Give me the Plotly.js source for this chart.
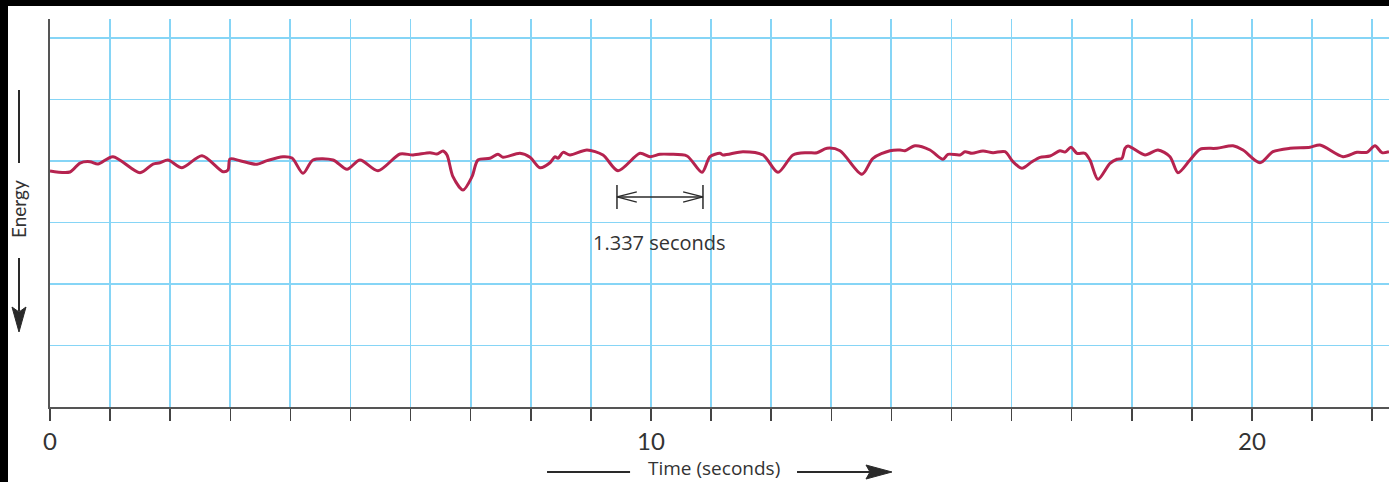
<!DOCTYPE html>
<html>
<head>
<meta charset="utf-8">
<script src="https://cdn.plot.ly/plotly-3.0.1.min.js"></script>
<style>
  html, body { margin: 0; padding: 0; background: #000; width: 1389px; height: 482px; overflow: hidden; }
  #chart { position: absolute; left: 8px; top: 6px; width: 1381px; height: 476px; }
</style>
</head>
<body>
<div id="chart"></div>
<script>
// ---- data ----
const time = [0, 0.333, 0.499, 0.666, 0.799, 1.048, 1.498, 1.714, 1.830, 1.963, 2.196, 2.529, 2.879, 2.962, 2.995,
  3.161, 3.444, 3.611, 3.877, 4.027, 4.210, 4.376, 4.709, 4.942, 5.158, 5.458, 5.824, 6.040, 6.323, 6.439, 6.539,
  6.606, 6.705, 6.872, 7.022, 7.121, 7.321, 7.454, 7.537, 7.820, 7.987, 8.153, 8.319, 8.403, 8.453, 8.536, 8.652,
  8.935, 9.201, 9.451, 9.817, 9.983, 10.150, 10.316, 10.599, 10.849, 10.982, 11.148, 11.198, 11.531, 11.864, 12.113,
  12.363, 12.596, 12.762, 12.929, 13.145, 13.511, 13.694, 13.977, 14.143, 14.226, 14.393, 14.642, 14.859, 14.942,
  15.141, 15.225, 15.341, 15.524, 15.691, 15.890, 16.023, 16.173, 16.339, 16.473, 16.639, 16.805, 16.889, 16.988,
  17.088, 17.221, 17.304, 17.438, 17.637, 17.754, 17.837, 17.887, 17.937, 18.220, 18.436, 18.636, 18.769, 18.968,
  19.135, 19.418, 19.684, 19.850, 20.133, 20.349, 20.632, 20.965, 21.131, 21.514, 21.747, 21.913, 22.047, 22.163, 22.280];
const energy = [3.837, 3.821, 3.967, 3.989, 3.951, 4.070, 3.810, 3.951, 3.972, 4.016, 3.891, 4.086, 3.826, 3.854, 4.033,
  4.005, 3.946, 4.005, 4.070, 4.049, 3.800, 4.016, 4.016, 3.865, 4.016, 3.842, 4.114, 4.098, 4.135, 4.114, 4.163,
  4.098, 3.745, 3.528, 3.745, 4.016, 4.044, 4.109, 4.060, 4.125, 4.060, 3.891, 3.972, 4.070, 4.044, 4.141, 4.098,
  4.179, 4.098, 3.842, 4.125, 4.070, 4.109, 4.109, 4.081, 3.816, 4.070, 4.125, 4.098, 4.151, 4.098, 3.816,
  4.098, 4.135, 4.135, 4.207, 4.167, 3.784, 4.044, 4.167, 4.179, 4.167, 4.249, 4.179, 4.028, 4.109,
  4.098, 4.151, 4.125, 4.163, 4.135, 4.151, 3.989, 3.881, 3.989, 4.060, 4.081, 4.167, 4.146, 4.223,
  4.125, 4.125, 4.016, 3.702, 3.963, 4.028, 4.044, 4.207, 4.244, 4.098, 4.179, 4.070, 3.810, 4.016,
  4.190, 4.207, 4.249, 4.179, 3.972, 4.151, 4.207, 4.223, 4.260, 4.070, 4.141, 4.141, 4.249, 4.135, 4.151];
const tickValues = [0, 1, 2, 3, 4, 5, 6, 7, 8, 9, 10, 11, 12, 13, 14, 15, 16, 17, 18, 19, 20, 21, 22];
const tickLabels = ['0', '', '', '', '', '', '', '', '', '', '10', '', '', '', '', '', '', '', '', '', '20', '', ''];
const periodStart = 9.434;   // dip-to-dip interval marked on the chart
const periodEnd = 10.865;
const periodText = '1.337 seconds';
const xTitle = 'Time (seconds)';
const yTitle = 'Energy';

// ---- styling ----
const gridColor = '#86d5f6';
const inkColor = '#2a2a2a';
const font = 'Lato, "Open Sans", sans-serif';
const textFont = '"Open Sans", Lato, sans-serif';

const trace = {
  x: time, y: energy, type: 'scatter', mode: 'lines',
  line: { color: '#b5234f', width: 3, shape: 'spline', smoothing: 0.8 },
  hoverinfo: 'skip'
};

const arrowY = 3.415;
const chevL = 0.33, chevH = 0.082;
const shapes = [
  // interval marker
  { type: 'line', xref: 'x', yref: 'y', x0: periodStart, x1: periodStart, y0: 3.22, y1: 3.61, line: { color: inkColor, width: 1.5 } },
  { type: 'line', xref: 'x', yref: 'y', x0: periodEnd, x1: periodEnd, y0: 3.22, y1: 3.61, line: { color: inkColor, width: 1.5 } },
  { type: 'line', xref: 'x', yref: 'y', x0: periodStart, x1: periodEnd, y0: arrowY, y1: arrowY, line: { color: inkColor, width: 1.3 } },
  { type: 'path', xref: 'x', yref: 'y', line: { color: inkColor, width: 1.3 },
    path: `M ${periodStart + chevL} ${arrowY + chevH} L ${periodStart} ${arrowY} L ${periodStart + chevL} ${arrowY - chevH}` },
  { type: 'path', xref: 'x', yref: 'y', line: { color: inkColor, width: 1.3 },
    path: `M ${periodEnd - chevL} ${arrowY + chevH} L ${periodEnd} ${arrowY} L ${periodEnd - chevL} ${arrowY - chevH}` },
  // y title decorations
  { type: 'line', xref: 'paper', yref: 'paper', x0: -0.02315, x1: -0.02315, y0: 0.8170, y1: 0.6289, line: { color: inkColor, width: 2 } },
  { type: 'line', xref: 'paper', yref: 'paper', x0: -0.02315, x1: -0.02315, y0: 0.3840, y1: 0.2470, line: { color: inkColor, width: 2 } },
  { type: 'path', xref: 'paper', yref: 'paper', fillcolor: inkColor, line: { color: inkColor, width: 1 },
    path: 'M -0.02315 0.1933 L -0.02838 0.2577 L -0.02315 0.2448 L -0.01792 0.2577 Z' },
  // x title decorations
  { type: 'line', xref: 'paper', yref: 'paper', x0: 0.3712, x1: 0.4332, y0: -0.1675, y1: -0.1675, line: { color: inkColor, width: 2 } },
  { type: 'line', xref: 'paper', yref: 'paper', x0: 0.5579, x1: 0.6124, y0: -0.1675, y1: -0.1675, line: { color: inkColor, width: 2 } },
  { type: 'path', xref: 'paper', yref: 'paper', fillcolor: inkColor, line: { color: inkColor, width: 1 },
    path: 'M 0.6288 -0.1675 L 0.6094 -0.1495 L 0.6124 -0.1675 L 0.6094 -0.1856 Z' }
];

const annotations = [
  { xref: 'x', yref: 'y', x: (periodStart + periodEnd) / 2, y: 2.67, text: periodText, showarrow: false,
    font: { family: textFont, size: 20, color: '#333' } },
  { xref: 'paper', yref: 'paper', x: 0.4959, y: -0.1572, text: xTitle, showarrow: false, yanchor: 'middle',
    font: { family: textFont, size: 19, color: '#333' } },
  { xref: 'paper', yref: 'paper', x: -0.0239, y: 0.5103, text: yTitle, showarrow: false, textangle: -90,
    xanchor: 'center', yanchor: 'middle', font: { family: font, size: 19, color: '#333' } }
];

const layout = {
  width: 1381, height: 476,
  margin: { l: 42, r: 0, t: 13, b: 75, pad: 0 },
  paper_bgcolor: '#ffffff', plot_bgcolor: '#ffffff',
  showlegend: false,
  xaxis: {
    range: [0, 22.28], tickmode: 'array', tickvals: tickValues, ticktext: tickLabels,
    showgrid: true, gridcolor: gridColor, gridwidth: 1.8, zeroline: false,
    showline: true, linecolor: '#555', linewidth: 2,
    ticks: 'outside', ticklen: 12, tickwidth: 1.5, tickcolor: '#444',
    tickfont: { family: font, size: 24, color: '#333' }, fixedrange: true
  },
  yaxis: {
    range: [0, 6.309], tick0: 0, dtick: 1, showticklabels: false, ticks: '',
    showgrid: true, gridcolor: gridColor, gridwidth: 1.8, zeroline: false,
    showline: true, linecolor: '#555', linewidth: 2, fixedrange: true
  },
  shapes: shapes,
  annotations: annotations
};

Plotly.newPlot('chart', [trace], layout, { displayModeBar: false, staticPlot: true });
</script>
</body>
</html>
